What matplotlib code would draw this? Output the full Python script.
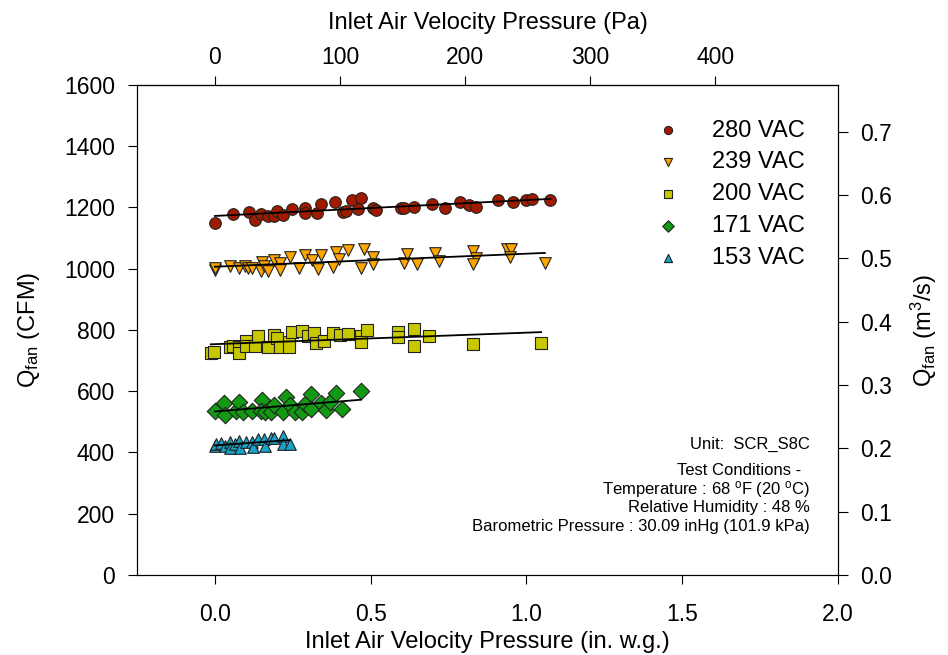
import numpy as np
import matplotlib.pyplot as plt

plt.rcParams['font.family'] = ['Liberation Sans', 'DejaVu Sans']
plt.rcParams['mathtext.fontset'] = 'custom'
plt.rcParams['mathtext.rm'] = 'Liberation Sans'
plt.rcParams['mathtext.it'] = 'Liberation Sans:italic'

# inlet air velocity pressure (in. w.g.) and fan flow (CFM) per supply voltage
x280 = [0.000, 0.059, 0.109, 0.130, 0.147, 0.169, 0.189, 0.200, 0.219, 0.249, 0.288, 0.288,
        0.328, 0.339, 0.387, 0.411, 0.420, 0.439, 0.458, 0.469, 0.506, 0.518, 0.597, 0.608,
        0.639, 0.698, 0.738, 0.787, 0.817, 0.838, 0.908, 0.956, 0.997, 1.017, 1.077]
y280 = [1150, 1179, 1183, 1158, 1177, 1173, 1173, 1188, 1175, 1194, 1197, 1180,
        1181, 1210, 1217, 1186, 1188, 1223, 1193, 1230, 1199, 1191, 1199, 1199,
        1200, 1210, 1199, 1216, 1206, 1202, 1223, 1216, 1224, 1226, 1224]

x239 = [0.000, 0.000, 0.048, 0.078, 0.098, 0.105, 0.120, 0.150, 0.147, 0.157, 0.170, 0.189,
        0.208, 0.208, 0.240, 0.269, 0.289, 0.311, 0.330, 0.339, 0.379, 0.388, 0.399, 0.428,
        0.470, 0.478, 0.509, 0.509, 0.608, 0.618, 0.648, 0.708, 0.718, 0.828, 0.837, 0.828,
        0.937, 0.951, 0.948, 1.059]
y239 = [995, 1003, 1009, 1003, 1009, 1003, 1003, 1022, 992, 1009, 992, 1028,
        1017, 995, 1038, 1003, 1043, 1028, 999, 1045, 1005, 1055, 1031, 1061,
        1003, 1064, 1039, 1014, 1017, 1047, 1014, 1051, 1025, 1057, 1033, 1014,
        1064, 1064, 1039, 1019]

x200 = [-0.013, -0.002, 0.048, 0.059, 0.078, 0.078, 0.099, 0.099, 0.128, 0.139, 0.169, 0.189,
        0.200, 0.208, 0.238, 0.238, 0.249, 0.279, 0.299, 0.318, 0.326, 0.349, 0.379, 0.403,
        0.428, 0.469, 0.469, 0.488, 0.588, 0.588, 0.639, 0.639, 0.687, 0.828, 1.047]
y200 = [725, 729, 745, 748, 745, 725, 765, 748, 748, 779, 743, 783,
        772, 743, 761, 745, 792, 796, 780, 791, 756, 765, 791, 783,
        786, 780, 761, 800, 794, 776, 802, 747, 780, 753, 758]

x171 = [0.000, 0.029, 0.032, 0.067, 0.078, 0.091, 0.120, 0.150, 0.147, 0.160, 0.179, 0.189,
        0.219, 0.229, 0.240, 0.256, 0.279, 0.288, 0.310, 0.310, 0.339, 0.358, 0.369, 0.388,
        0.409, 0.469]
y171 = [536, 560, 522, 536, 564, 533, 536, 571, 536, 533, 533, 555,
        533, 582, 555, 533, 533, 558, 590, 541, 562, 538, 566, 595,
        541, 600]

x153 = [0.000, 0.005, 0.019, 0.032, 0.048, 0.050, 0.064, 0.078, 0.080, 0.099, 0.120, 0.123,
        0.139, 0.158, 0.160, 0.179, 0.190, 0.219, 0.219, 0.240]
y153 = [422, 426, 430, 422, 435, 413, 426, 437, 413, 435, 433, 419,
        443, 443, 422, 446, 446, 455, 427, 426]

series = [
    ('280 VAC', x280, y280, 'o', '#a01a00'),
    ('239 VAC', x239, y239, 'v', '#ffa500'),
    ('200 VAC', x200, y200, 's', '#c8c800'),
    ('171 VAC', x171, y171, 'D', '#129a12'),
    ('153 VAC', x153, y153, '^', '#1aa3c8'),
]

notes = ['Unit:  SCR_S8C', 'Test Conditions -  ',
         'Temperature : 68 $^{\\rm o}$F (20 $^{\\rm o}$C)',
         'Relative Humidity : 48 %',
         'Barometric Pressure : 30.09 inHg (101.9 kPa)']

fig = plt.figure(figsize=(9.48, 6.55), dpi=100)
ax = fig.add_axes([0.1445, 0.1221, 0.7395, 0.7486])

handles = []
for label, xs, ys, mk, col in series:
    xs = np.array(xs)
    ys = np.array(ys)
    h = ax.scatter(xs, ys, s=70, marker=mk, color=col, edgecolors='#222222',
                   linewidths=0.8, label=label, zorder=3)
    handles.append(h)
    k, b = np.polyfit(xs, ys, 1)
    xf = np.array([xs.min(), xs.max()])
    ax.plot(xf, k * xf + b, color='black', lw=1.3, zorder=4)

ax.set_xlim(-0.25, 2.0)
ax.set_ylim(0, 1600)
ax.set_xticks([0.0, 0.5, 1.0, 1.5, 2.0])
ax.set_xticklabels(['0.0', '0.5', '1.0', '1.5', '2.0'])
ax.set_yticks(np.arange(0, 1601, 200))
ax.tick_params(axis='x', direction='out', length=6.5, labelsize=16.5, pad=14)
ax.tick_params(axis='y', direction='out', length=6.5, labelsize=16.5, pad=9.5)
ax.set_xlabel('Inlet Air Velocity Pressure (in. w.g.)', fontsize=17, labelpad=3)
ax.set_ylabel('Q$_{\\rm fan}$ (CFM)', fontsize=17, labelpad=16)

# top axis in Pa
top = ax.secondary_xaxis('top', functions=(lambda v: v * 249.09, lambda p: p / 249.09))
top.set_xticks([0, 100, 200, 300, 400])
top.tick_params(direction='out', length=6.5, labelsize=16.5, pad=5)
top.set_xlabel('Inlet Air Velocity Pressure (Pa)', fontsize=17, labelpad=12)

# right axis in m3/s
ax2 = ax.twinx()
ax2.set_ylim(0, 0.774)
ax2.set_yticks(np.arange(0, 0.71, 0.1))
ax2.set_yticklabels(['0.0', '0.1', '0.2', '0.3', '0.4', '0.5', '0.6', '0.7'])
ax2.tick_params(direction='out', length=7, labelsize=16.5, pad=9)
ax2.set_ylabel('Q$_{\\rm fan}$ (m$^3$/s)', fontsize=17, labelpad=12)

leg = ax.legend(handles=handles, loc='upper left', bbox_to_anchor=(0.74, 0.929),
                frameon=False, fontsize=17, markerscale=0.7, scatterpoints=1,
                handlelength=1.0, handletextpad=1.4, labelspacing=0.42,
                borderpad=0, borderaxespad=0)

ys_note = [0.266, 0.213, 0.174, 0.137, 0.098]
for t, yy in zip(notes, ys_note):
    ax.text(0.96, yy, t, transform=ax.transAxes, ha='right', va='center', fontsize=12)

fig.savefig('out.png', dpi=100)
